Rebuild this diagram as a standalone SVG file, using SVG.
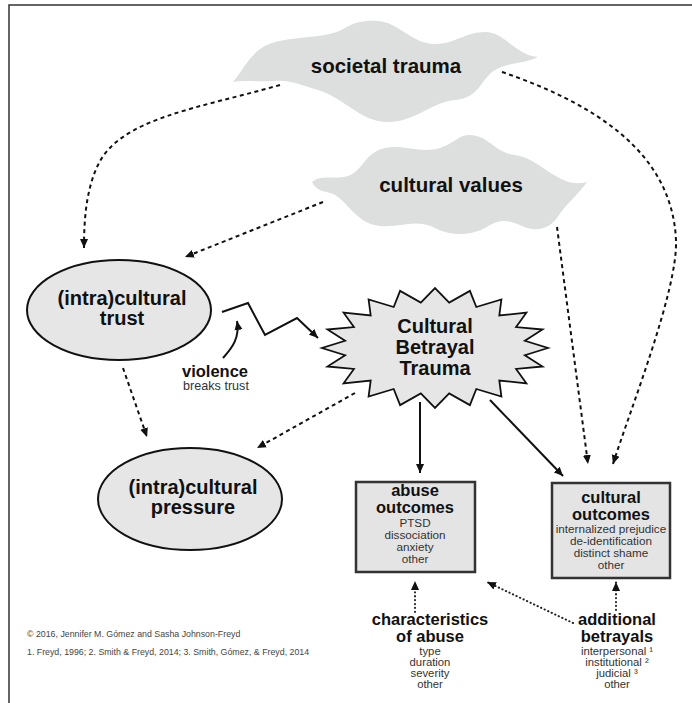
<svg xmlns="http://www.w3.org/2000/svg" width="692" height="703" viewBox="0 0 692 703">
  <style>
    .bg { fill: #ffffff; }
    .frame { fill: none; stroke: #333333; stroke-width: 1.5; }
    .cloud { fill: #dcdfde; stroke: none; }
    .oval { fill: #e6e6e6; stroke: #111111; stroke-width: 2; }
    .star { fill: #e6e6e6; stroke: #111111; stroke-width: 1.8; stroke-linejoin: miter; }
    .box { fill: #e4e4e4; stroke: #333333; stroke-width: 2.5; }
    .dash { fill: none; stroke: #111111; stroke-width: 2; stroke-dasharray: 4 3.5; }
    .dot { fill: none; stroke: #222222; stroke-width: 2; stroke-dasharray: 0.3 3.6; stroke-linecap: round; }
    .solid { fill: none; stroke: #111111; stroke-width: 2; }
    .t { font-family: "Liberation Sans", Arial, Helvetica, sans-serif; text-anchor: middle; fill: #111111; }
    .big { font-size: 20.5px; font-weight: bold; }
    .mid { font-size: 20px; font-weight: bold; }
    .head { font-size: 16.5px; font-weight: bold; }
    .small { font-size: 11.7px; fill: #333333; }
    .tiny { font-size: 11.3px; fill: #333333; }
    .note { font-family: "Liberation Sans", Arial, Helvetica, sans-serif; font-size: 8.8px; fill: #444444; }
  </style>
  <defs>
    <marker id="arrow" viewBox="0 0 10 10" refX="10" refY="5" markerWidth="9" markerHeight="9" markerUnits="userSpaceOnUse" orient="auto">
      <path d="M0,0.5 L10,5 L0,9.5 z" fill="#111111"/>
    </marker>
  </defs>

  <rect class="bg" x="0" y="0" width="692" height="703"/>
  <path class="frame" d="M9,703 L9,5 L692,5"/>

  <!-- clouds -->
  <g id="societal-trauma">
    <path class="cloud" d="M233,82 C245,68 252,48 275,42 C300,36 330,38 345,28 C355,22 365,20 378,21 C400,23 412,44 435,44 C455,44 465,32 485,32 C505,32 515,55 538,57 C525,64 505,62 492,72 C480,82 478,98 455,100 C432,102 415,122 388,122 C360,122 345,98 318,90 C300,85 290,80 275,81 C258,82 245,80 233,82 Z"/>
    <text class="t big" x="386" y="73">societal trauma</text>
  </g>
  <g id="cultural-values">
    <path class="cloud" d="M312,182 C322,174 335,180 348,176 C362,172 365,152 385,148 C405,144 420,154 440,148 C455,143 458,135 470,135 C488,135 495,153 515,155 C540,158 560,190 587,182 C578,195 565,205 557,218 C548,230 535,232 522,226 C505,218 498,220 485,228 C470,236 450,236 435,228 C415,218 400,228 380,226 C355,224 345,196 330,193 C322,191 316,190 312,182 Z"/>
    <text class="t big" x="451" y="192">cultural values</text>
  </g>

  <!-- connectors -->
  <g id="connectors">
    <path class="dash" d="M280,85 C200,108 120,118 98,165 C86,190 84,220 84,248" marker-end="url(#arrow)"/>
    <path class="dash" d="M502,72 C590,102 672,150 676,240 C678,290 630,410 613,464" marker-end="url(#arrow)"/>
    <path class="dash" d="M557,227 L588,464" marker-end="url(#arrow)"/>
    <path class="dash" d="M323,202 L185,257" marker-end="url(#arrow)"/>
    <path class="dash" d="M123,368 L147,437" marker-end="url(#arrow)"/>
    <path class="dash" d="M355,393 L257,448" marker-end="url(#arrow)"/>
    <path class="solid" d="M222,312 L248,303 L265,335 L297,318 L318,338" marker-end="url(#arrow)"/>
    <path class="solid" d="M223,358 C232,348 240,338 237,321" marker-end="url(#arrow)"/>
    <path class="solid" d="M420,402 L420,473" marker-end="url(#arrow)"/>
    <path class="solid" d="M490,400 L563,476" marker-end="url(#arrow)"/>
    <path class="dot" d="M415,612 L415,581" marker-end="url(#arrow)"/>
    <path class="dot" d="M573,623 L487,582" marker-end="url(#arrow)"/>
    <path class="dot" d="M616,610 L616,582" marker-end="url(#arrow)"/>
  </g>

  <!-- ovals -->
  <g id="intracultural-trust">
    <ellipse class="oval" cx="119" cy="310" rx="92" ry="50"/>
    <text class="t mid" x="122" y="305">(intra)cultural</text>
    <text class="t mid" x="122" y="325">trust</text>
  </g>
  <g id="intracultural-pressure">
    <ellipse class="oval" cx="190" cy="499" rx="92" ry="51"/>
    <text class="t mid" x="193" y="494">(intra)cultural</text>
    <text class="t mid" x="193" y="514">pressure</text>
  </g>

  <g id="violence">
    <text class="t" x="215" y="377" style="font-size:16.5px;font-weight:bold">violence</text>
    <text class="t" x="216" y="390" style="font-size:12.6px;fill:#333333">breaks trust</text>
  </g>

  <!-- starburst -->
  <g id="cultural-betrayal-trauma">
    <polygon class="star" points="548,348 524.9,355.2 542.5,366.5 516.1,368.9 526.4,383.3 499.3,380.5 501.4,396.5 476.3,389 469.9,405.1 449.2,393.4 435,408 420.8,393.4 400.1,405.1 393.7,389 368.6,396.5 370.7,380.5 343.6,383.3 353.9,368.9 327.5,366.5 345.1,355.2 322,348 345.1,340.8 327.5,329.5 353.9,327.1 343.6,312.7 370.7,315.5 368.6,299.5 393.7,307 400.1,290.9 420.8,302.6 435,288 449.2,302.6 469.9,290.9 476.3,307 501.4,299.5 499.3,315.5 526.4,312.7 516.1,327.1 542.5,329.5 524.9,340.8"/>
    <text class="t mid" x="435" y="333">Cultural</text>
    <text class="t mid" x="435" y="354">Betrayal</text>
    <text class="t mid" x="435" y="375">Trauma</text>
  </g>

  <!-- outcome boxes -->
  <g id="abuse-outcomes">
    <rect class="box" x="356" y="482" width="119" height="90"/>
    <text class="t head" x="415" y="496">abuse</text>
    <text class="t head" x="415" y="513">outcomes</text>
    <text class="t small" x="415" y="527">PTSD</text>
    <text class="t small" x="415" y="539">dissociation</text>
    <text class="t small" x="415" y="551">anxiety</text>
    <text class="t small" x="415" y="563">other</text>
  </g>
  <g id="cultural-outcomes">
    <rect class="box" x="552" y="483" width="118" height="95"/>
    <text class="t head" x="611" y="503">cultural</text>
    <text class="t head" x="611" y="520">outcomes</text>
    <text class="t small" x="611" y="533">internalized prejudice</text>
    <text class="t small" x="611" y="545">de-identification</text>
    <text class="t small" x="611" y="557">distinct shame</text>
    <text class="t small" x="611" y="569">other</text>
  </g>

  <!-- contributing factors -->
  <g id="characteristics-of-abuse">
    <text class="t head" x="430" y="625">characteristics</text>
    <text class="t head" x="430" y="642">of abuse</text>
    <text class="t tiny" x="430" y="655">type</text>
    <text class="t tiny" x="430" y="666">duration</text>
    <text class="t tiny" x="430" y="677">severity</text>
    <text class="t tiny" x="430" y="688">other</text>
  </g>
  <g id="additional-betrayals">
    <text class="t head" x="617" y="625">additional</text>
    <text class="t head" x="617" y="642">betrayals</text>
    <text class="t tiny" x="617" y="655">interpersonal ¹</text>
    <text class="t tiny" x="617" y="666">institutional ²</text>
    <text class="t tiny" x="617" y="677">judicial ³</text>
    <text class="t tiny" x="617" y="688">other</text>
  </g>

  <!-- credits -->
  <text class="note" x="27" y="637">© 2016, Jennifer M. Gómez and Sasha Johnson-Freyd</text>
  <text class="note" x="27" y="655">1. Freyd, 1996; 2. Smith &amp; Freyd, 2014; 3. Smith, Gómez, &amp; Freyd, 2014</text>
</svg>
